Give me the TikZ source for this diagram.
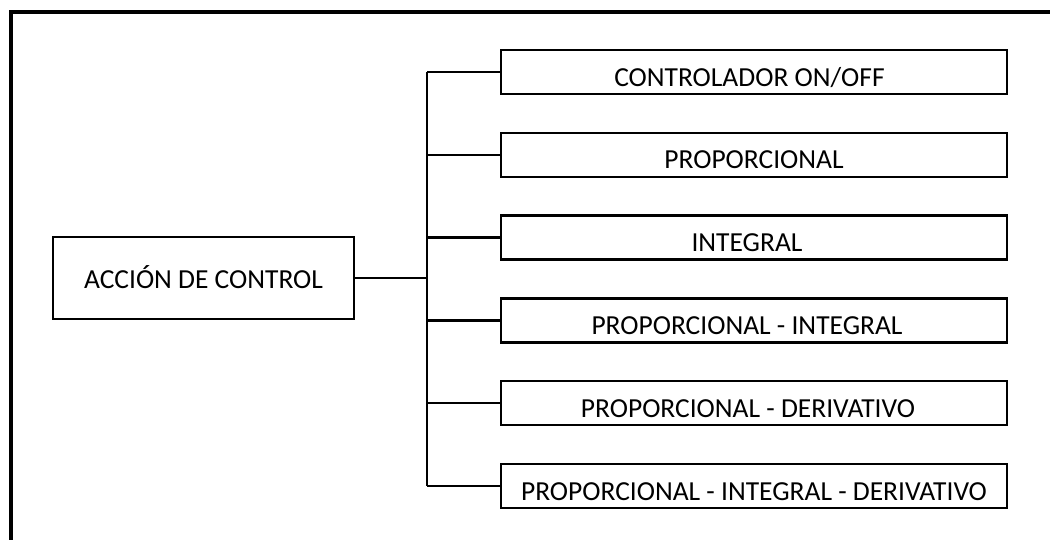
\documentclass[tikz,border=0pt]{standalone}
\usepackage{fontspec}
\setmainfont{Carlito}
\begin{document}
\begin{tikzpicture}[x=1pt,y=-1pt,
  childbox/.style={draw, line width=2.5pt, inner sep=0pt, minimum width=506pt,
    text height=36pt, text depth=8pt, font=\fontsize{27.5}{32}\selectfont},
  mainbox/.style={draw, line width=2.5pt, inner sep=0pt, minimum width=301pt,
    text height=51pt, text depth=31pt, font=\fontsize{27.5}{32}\selectfont},
  link/.style={line width=2.3pt}]
\useasboundingbox (0,0) rectangle (1050,539);
\fill[white] (0,0) rectangle (1050,539);
% frame
\draw[line width=3.2pt] (11,560) -- (11,12) -- (1060,12);
% main box
\node[mainbox] (main) at (203.5,278) {ACCIÓN DE CONTROL};
% children
\node[childbox] (c1) at (754,72) {\hspace*{-9pt}CONTROLADOR ON/OFF};
\node[childbox] (c2) at (754,154.8) {PROPORCIONAL};
\node[childbox] (c3) at (754,237.6) {\hspace*{-14pt}INTEGRAL};
\node[childbox] (c4) at (754,320.4) {\hspace*{-14pt}PROPORCIONAL - INTEGRAL};
\node[childbox] (c5) at (754,403.2) {\hspace*{-12pt}PROPORCIONAL - DERIVATIVO};
\node[childbox] (c6) at (754,486) {PROPORCIONAL - INTEGRAL - DERIVATIVO};
% trunk
\coordinate (ttop) at (427,72);
\coordinate (tbot) at (427,486);
\coordinate (tmid) at (427,278);
\draw[link] (ttop) -- (tbot);
\draw[link] (main.east) -- (tmid);
\foreach \n in {c1,c2,c3,c4,c5,c6}{
  \draw[link] (\n.west -| ttop) -- (\n.west);
}
\end{tikzpicture}
\end{document}
